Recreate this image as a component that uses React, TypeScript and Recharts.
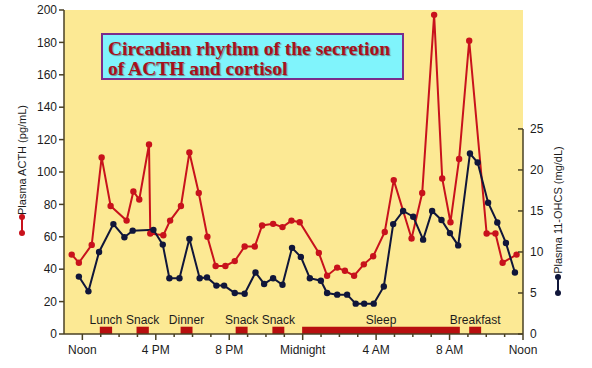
import {
  CartesianGrid,
  Line,
  LineChart,
  ReferenceArea,
  ReferenceLine,
  XAxis,
  YAxis,
} from "recharts";

// hours after noon
const acthHours = [
  -0.58, -0.19, 0.51, 1.05, 1.54, 2.41, 2.78, 3.1, 3.63, 3.7, 4.41, 4.78, 5.37, 5.83,
  6.34, 6.81, 7.26, 7.79, 8.3, 8.84, 9.39, 9.79, 10.39, 10.9, 11.39, 11.84, 12.88,
  13.33, 13.88, 14.3, 14.8, 15.33, 15.84, 16.47, 16.96, 17.93, 18.51, 19.16, 19.6,
  20.05, 20.52, 21.07, 22.02, 22.5, 22.89, 23.65,
];
const acthValues = [
  49, 44, 55, 109, 79, 70, 88, 83, 117, 62, 61, 70, 79, 112, 87, 60, 42, 42, 45, 54,
  54, 67, 68, 66, 70, 69, 50, 36, 41, 39, 36, 43, 48, 63, 95, 59, 87, 197, 96, 69, 108,
  181, 62, 62, 44, 49,
];

const cortHours = [
  -0.19, 0.33, 0.91, 1.69, 2.29, 2.74, 3.87, 4.38, 4.74, 5.29, 5.83, 6.39, 6.79, 7.3,
  7.72, 8.3, 8.84, 9.43, 9.9, 10.39, 10.9, 11.42, 11.9, 12.39, 12.99, 13.33, 13.88,
  14.42, 14.89, 15.35, 15.87, 16.42, 16.93, 17.47, 18.02, 18.56, 19.05, 19.56, 20.02,
  20.47, 21.11, 21.53, 22.1, 22.6, 23.07, 23.56,
];
const cortValues = [
  7.0, 5.2, 10.0, 13.4, 11.8, 12.6, 12.7, 10.9, 6.8, 6.8, 11.6, 6.8, 6.9, 5.9, 5.9,
  5.0, 4.9, 7.5, 6.1, 6.8, 6.0, 10.5, 9.4, 6.8, 6.5, 5.0, 4.8, 4.8, 3.7, 3.7, 3.7, 5.8,
  13.4, 15.0, 14.3, 11.5, 15.0, 13.9, 12.3, 10.8, 22.0, 20.9, 16.0, 13.6, 11.1, 7.5,
];

const mealNames = ["Lunch", "Snack", "Dinner", "Snack", "Snack", "Sleep", "Breakfast"];
const mealStart = [0.95, 2.95, 5.35, 8.35, 10.35, 11.97, 21.07];
const mealEnd = [1.62, 3.62, 6.0, 9.0, 11.0, 20.56, 21.72];

const hourTicks = [
  0, 1, 2, 3, 4, 5, 6, 7, 8, 9, 10, 11, 12, 13, 14, 15, 16, 17, 18, 19, 20, 21, 22, 23, 24,
];
const hourLabels: Record<number, string> = {
  0: "Noon",
  4: "4 PM",
  8: "8 PM",
  12: "Midnight",
  16: "4 AM",
  20: "8 AM",
  24: "Noon",
};
const acthTicks = [0, 20, 40, 60, 80, 100, 120, 140, 160, 180, 200];
const cortTicks = [0, 5, 10, 15, 20, 25];

const acthData = acthHours.map((h, i) => ({ h, v: acthValues[i] }));
const cortData = cortHours.map((h, i) => ({ h, v: cortValues[i] }));

const RED = "#c8121c";
const NAVY = "#10163a";
const AXIS = "#4a4124";
const TEXT = "#1c1c1c";
const FONT = "'Liberation Sans', Arial, sans-serif";

function HourTick(props: any) {
  const { x, y, payload } = props;
  const label = hourLabels[payload.value];
  return (
    <g>
      <line x1={x} x2={x} y1={y} y2={y + (label ? 6 : 3)} stroke={AXIS} strokeWidth={1.5} />
      {label && (
        <text x={x} y={y + 20} textAnchor="middle" fill={TEXT} fontSize={12} fontFamily={FONT}>
          {label}
        </text>
      )}
    </g>
  );
}

function RightTick(props: any) {
  const { x, y, payload } = props;
  return (
    <g>
      <line x1={x - 5} x2={x} y1={y} y2={y} stroke={AXIS} strokeWidth={1.5} />
      <text x={x + 7} y={y} dy="0.35em" textAnchor="start" fill={TEXT} fontSize={12} fontFamily={FONT}>
        {payload.value}
      </text>
    </g>
  );
}

function LeftLabel(props: any) {
  const vb = props.viewBox || { x: 0 };
  const cx = vb.x + 22;
  return (
    <g>
      <text
        x={cx}
        y={160}
        transform={`rotate(-90 ${cx} 160)`}
        textAnchor="middle"
        dy="0.35em"
        fill={TEXT}
        fontSize={11}
        fontFamily={FONT}
      >
        Plasma ACTH (pg/mL)
      </text>
      <line x1={cx} x2={cx} y1={217} y2={233} stroke={RED} strokeWidth={2} />
      <circle cx={cx} cy={217} r={3} fill={RED} />
      <circle cx={cx} cy={233} r={3} fill={RED} />
    </g>
  );
}

function RightLabel(props: any) {
  const vb = props.viewBox || { x: 523 };
  const cx = vb.x + 35;
  return (
    <g>
      <text
        x={cx}
        y={210}
        transform={`rotate(-90 ${cx} 210)`}
        textAnchor="middle"
        dy="0.35em"
        fill={TEXT}
        fontSize={11}
        fontFamily={FONT}
      >
        Plasma 11-OHCS (mg/dL)
      </text>
      <line x1={cx} x2={cx} y1={277} y2={293} stroke={NAVY} strokeWidth={2} />
      <circle cx={cx} cy={277} r={3} fill={NAVY} />
      <circle cx={cx} cy={293} r={3} fill={NAVY} />
    </g>
  );
}

export default function App() {
  return (
    <div style={{ position: "absolute", left: 0, top: 0, width: 592, height: 368, background: "#fff" }}>
      <LineChart width={592} height={368} margin={{ top: 10, right: 0, bottom: 0, left: 0 }}>
        <CartesianGrid horizontal={false} vertical={false} fill="#fce994" yAxisId="acth" />
        <XAxis
          dataKey="h"
          type="number"
          domain={[-1, 24]}
          ticks={hourTicks}
          allowDataOverflow
          height={34}
          tickLine={false}
          tickSize={0}
          tickMargin={0}
          tick={<HourTick />}
          axisLine={{ stroke: AXIS, strokeWidth: 1.5 }}
          interval={0}
        />
        <YAxis
          yAxisId="acth"
          domain={[0, 200]}
          ticks={acthTicks}
          width={64}
          tickSize={5}
          tickMargin={2}
          tickLine={{ stroke: AXIS, strokeWidth: 1.5 }}
          axisLine={{ stroke: AXIS, strokeWidth: 1.5 }}
          tick={{ fill: TEXT, fontSize: 12, fontFamily: FONT }}
          interval={0}
          label={<LeftLabel />}
        />
        <YAxis
          yAxisId="cort"
          orientation="right"
          domain={[0, 39.5]}
          ticks={cortTicks}
          width={69}
          axisLine={false}
          tickLine={false}
          tickSize={0}
          tickMargin={0}
          tick={<RightTick />}
          interval={0}
          label={<RightLabel />}
        />
        <ReferenceLine
          yAxisId="cort"
          segment={[
            { x: 24, y: 0 },
            { x: 24, y: 25 },
          ]}
          stroke={AXIS}
          strokeWidth={1.5}
          ifOverflow="visible"
        />
        {mealNames.map((name, i) => (
          <ReferenceArea
            key={`${name}-${i}`}
            yAxisId="acth"
            x1={mealStart[i]}
            x2={mealEnd[i]}
            y1={0}
            y2={4.5}
            fill="#b80f0f"
            fillOpacity={1}
            stroke="none"
            label={{ value: name, position: "top", offset: 3, fill: TEXT, fontSize: 12, fontFamily: FONT }}
          />
        ))}
        <Line
          yAxisId="acth"
          data={acthData}
          dataKey="v"
          type="linear"
          stroke={RED}
          strokeWidth={2}
          dot={{ r: 3.2, fill: RED, stroke: RED, strokeWidth: 0 }}
          isAnimationActive={false}
        />
        <Line
          yAxisId="cort"
          data={cortData}
          dataKey="v"
          type="linear"
          stroke={NAVY}
          strokeWidth={2}
          dot={{ r: 3.2, fill: NAVY, stroke: NAVY, strokeWidth: 0 }}
          isAnimationActive={false}
        />
      </LineChart>
      <div
        style={{
          position: "absolute",
          left: 101,
          top: 33,
          width: 303,
          height: 47,
          background: "#80f4fc",
          border: "2px solid #7a2d8c",
          color: "#a8101c",
          fontFamily: "'Liberation Serif', 'Times New Roman', serif",
          fontWeight: "bold",
          fontSize: 19.5,
          lineHeight: "20px",
          padding: "4px 0 0 5px",
          boxSizing: "border-box",
          whiteSpace: "nowrap",
          textShadow: "1px 1px 1px rgba(70,0,0,0.45)",
        }}
      >
        Circadian rhythm of the secretion
        <br />
        of ACTH and cortisol
      </div>
    </div>
  );
}
